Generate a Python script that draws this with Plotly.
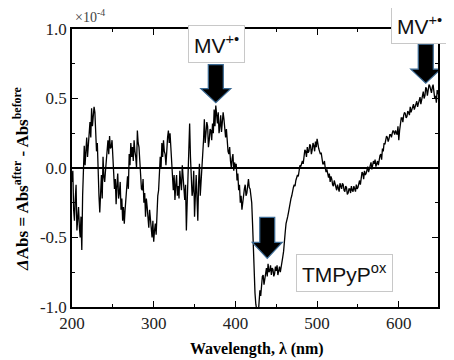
import plotly.graph_objects as go

# wavelength grid (nm) and difference absorbance (x1e-4)
wavelengths = list(range(200, 649))
delta_abs = [
    -0.10, -0.02, -0.30, -0.38, -0.22, -0.12, -0.45, -0.33, -0.28, -0.42,
    -0.50, -0.35, -0.59, -0.20, 0.10, 0.16, 0.02, 0.12, 0.22, 0.08,
    0.15, 0.28, 0.33, 0.22, 0.43, 0.30, 0.36, 0.44, 0.40, 0.25,
    0.12, 0.18, -0.10, -0.20, -0.32, -0.15, -0.05, -0.22, 0.08, -0.06,
    -0.10, -0.02, 0.05, 0.12, 0.20, 0.10, 0.23, 0.14, 0.15, 0.20,
    0.06, -0.05, -0.15, -0.08, -0.26, -0.12, -0.04, -0.22, -0.18, -0.10,
    -0.30, -0.22, -0.38, -0.28, -0.40, -0.30, -0.20, -0.12, -0.06, -0.15,
    0.10, 0.02, 0.18, 0.08, 0.15, 0.05, 0.20, 0.12, 0.08, 0.00,
    0.27, 0.18, 0.15, 0.05, -0.06, -0.15, -0.16, -0.08, -0.25, -0.18,
    -0.35, -0.22, -0.28, -0.38, -0.43, -0.30, -0.37, -0.45, -0.50, -0.38,
    -0.53, -0.45, -0.40, -0.48, -0.30, -0.20, -0.16, -0.05, 0.08, 0.00,
    0.18, 0.08, 0.20, 0.12, 0.10, 0.02, 0.15, 0.22, 0.27, 0.18,
    0.25, 0.12, 0.02, -0.08, -0.16, -0.05, -0.23, -0.12, -0.05, -0.20,
    -0.13, -0.22, -0.02, -0.10, -0.16, 0.02, -0.05, -0.15, -0.23, -0.12,
    -0.45, -0.25, -0.05, 0.10, 0.32, 0.08, -0.05, -0.20, -0.16, -0.02,
    -0.35, -0.18, -0.05, -0.22, -0.38, -0.10, 0.03, -0.20, -0.11, 0.02,
    0.08, 0.20, 0.35, 0.18, 0.25, 0.33, 0.30, 0.15, 0.20, 0.28,
    0.27, 0.20, 0.32, 0.25, 0.42, 0.30, 0.45, 0.38, 0.32, 0.40,
    0.25, 0.30, 0.38, 0.26, 0.32, 0.40, 0.35, 0.25, 0.22, 0.28,
    0.18, 0.12, 0.10, 0.15, 0.05, 0.00, 0.07, 0.10, -0.02, 0.04,
    0.00, 0.03, -0.09, -0.04, -0.16, -0.12, -0.25, -0.20, -0.30, -0.24,
    -0.22, -0.15, -0.12, -0.20, -0.18, -0.10, -0.08, -0.14, -0.15, -0.20,
    -0.25, -0.40, -0.60, -0.75, -0.90, -0.98, -1.05, -1.05, -1.05, -0.95,
    -0.88, -0.92, -0.82, -0.78, -0.77, -0.84, -0.80, -0.75, -0.72, -0.78,
    -0.69, -0.75, -0.74, -0.70, -0.77, -0.72, -0.73, -0.78, -0.76, -0.71,
    -0.74, -0.70, -0.77, -0.74, -0.71, -0.75, -0.70, -0.67, -0.64, -0.60,
    -0.50, -0.46, -0.40, -0.38, -0.35, -0.32, -0.28, -0.25, -0.22, -0.20,
    -0.16, -0.14, -0.12, -0.13, -0.09, -0.06, -0.05, -0.06, -0.02, 0.02,
    0.01, 0.04, 0.05, 0.03, 0.09, 0.13, 0.12, 0.08, 0.15, 0.11,
    0.12, 0.17, 0.16, 0.10, 0.13, 0.18, 0.16, 0.12, 0.19, 0.15,
    0.21, 0.16, 0.14, 0.12, 0.10, 0.11, 0.07, 0.03, 0.03, 0.05,
    0.00, -0.03, -0.01, -0.05, -0.07, -0.04, -0.10, -0.06, -0.08, -0.12,
    -0.13, -0.09, -0.12, -0.15, -0.16, -0.12, -0.14, -0.17, -0.11, -0.14,
    -0.15, -0.11, -0.12, -0.16, -0.17, -0.13, -0.14, -0.19, -0.18, -0.15,
    -0.15, -0.18, -0.13, -0.16, -0.17, -0.13, -0.15, -0.17, -0.12, -0.15,
    -0.14, -0.11, -0.09, -0.12, -0.07, -0.03, -0.04, -0.08, -0.02, -0.05,
    -0.04, -0.01, 0.01, -0.03, 0.00, 0.03, 0.04, -0.01, 0.02, 0.05,
    0.03, 0.06, 0.01, 0.04, 0.05, 0.02, 0.07, 0.09, 0.10, 0.06,
    0.14, 0.12, 0.18, 0.17, 0.20, 0.23, 0.22, 0.19, 0.21, 0.24,
    0.24, 0.22, 0.25, 0.27, 0.26, 0.24, 0.27, 0.25, 0.24, 0.30,
    0.20, 0.27, 0.33, 0.36, 0.36, 0.33, 0.38, 0.40, 0.39, 0.36,
    0.37, 0.41, 0.40, 0.38, 0.44, 0.40, 0.42, 0.45, 0.46, 0.42,
    0.44, 0.47, 0.48, 0.44, 0.47, 0.50, 0.51, 0.46, 0.49, 0.53,
    0.55, 0.50, 0.52, 0.58, 0.57, 0.52, 0.55, 0.60, 0.59, 0.55,
    0.54, 0.58, 0.60, 0.55, 0.50, 0.52, 0.47, 0.56, 0.53,
]

x_tick_vals = [200, 300, 400, 500, 600]
y_tick_vals = [-1.0, -0.5, 0.0, 0.5, 1.0]
y_tick_text = ["-1.0", "-0.5", "0.0", "0.5", "1.0"]

# arrow tips (data coords) and label boxes
arrow_tips_x = [376, 633, 439]
arrow_tips_y = [0.47, 0.61, -0.65]
label_texts = ["MV<sup>+•</sup>", "MV<sup>+•</sup>", "TMPyP<sup>ox</sup>"]
label_x = [0.395, 0.95, 0.745]
label_y = [0.946, 1.016, 0.122]

SERIF = "Liberation Serif"
SANS = "Liberation Sans"

fig = go.Figure()
fig.add_trace(go.Scatter(
    x=wavelengths, y=delta_abs, mode="lines",
    line=dict(color="black", width=1.3), showlegend=False,
))

axis_common = dict(
    showline=True, linecolor="black", linewidth=1.5, mirror="ticks",
    ticks="inside", ticklen=6, tickwidth=1.2, tickcolor="black",
    showgrid=False,
    tickfont=dict(family=SERIF, size=17, color="#222"),
)
fig.update_xaxes(range=[200, 648], tickvals=x_tick_vals,
                 minor=dict(dtick=50, ticks="inside", ticklen=3, tickcolor="black", tick0=0),
                 zeroline=False, **axis_common)
fig.update_yaxes(range=[-1.0, 1.0], tickvals=y_tick_vals, ticktext=y_tick_text,
                 minor=dict(dtick=0.25, ticks="inside", ticklen=3, tickcolor="black", tick0=0),
                 zeroline=True, zerolinecolor="black", zerolinewidth=1.5, **axis_common)

shapes = []
for tx, ty, sh_top, head_top in zip(arrow_tips_x, arrow_tips_y, [38, 39, 41], [14, 14, 16]):
    path = (f"M -7.5,{sh_top} L 7.5,{sh_top} L 7.5,{head_top} L 15,{head_top} "
            f"L 0,0 L -15,{head_top} L -7.5,{head_top} Z")
    shapes.append(dict(type="path", xref="x", yref="y", xsizemode="pixel", ysizemode="pixel",
                       xanchor=tx, yanchor=ty, path=path, fillcolor="black",
                       line=dict(color="#3b6a94", width=1.2), layer="above"))

annotations = []
for t, lx, ly in zip(label_texts, label_x, label_y):
    annotations.append(dict(text=t, x=lx, y=ly, xref="paper", yref="paper",
                            showarrow=False, xanchor="center", yanchor="middle",
                            font=dict(family=SANS, size=21, color="#111"),
                            bgcolor="white", bordercolor="#c8c8c8", borderwidth=1, borderpad=5))
annotations.append(dict(text="×10<sup>-4</sup>", x=0.003, y=1.047, xref="paper", yref="paper",
                        showarrow=False, xanchor="left", yanchor="middle",
                        font=dict(family=SERIF, size=14, color="#444")))
annotations.append(dict(text="<b>Wavelength, λ (nm)</b>", x=0.505, y=-0.15, xref="paper", yref="paper",
                        showarrow=False, xanchor="center", yanchor="middle",
                        font=dict(family=SERIF, size=16, color="black")))
annotations.append(dict(text="<b><i>Δ</i>Abs = Abs<sup>after</sup> - Abs<sup>before</sup></b>",
                        x=-0.14, y=0.46, xref="paper", yref="paper", textangle=-90,
                        showarrow=False, xanchor="center", yanchor="middle",
                        font=dict(family=SERIF, size=17, color="black")))

# page has an 8px body margin, so the figure is shrunk/offset to land where the reference is
fig.update_layout(
    width=446, height=352,
    margin=dict(l=64, r=16, t=21, b=53),
    font=dict(family=SERIF),
    paper_bgcolor="white", plot_bgcolor="white",
    shapes=shapes, annotations=annotations,
)

fig.write_html("out.html")
